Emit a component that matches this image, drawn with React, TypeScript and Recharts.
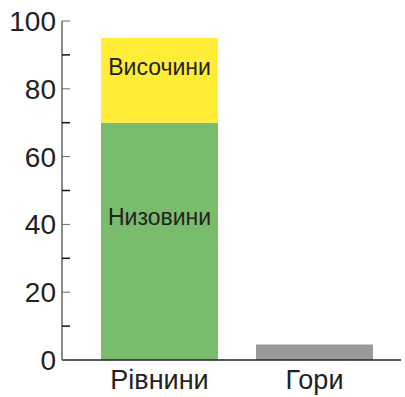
import { BarChart, Bar, XAxis, YAxis } from 'recharts';

const categories = ['Рівнини', 'Гори'];
const lowlands = [70, 0];
const highlands = [25, 0];
const mountains = [0, 4.6];
const yTicks = [0, 10, 20, 30, 40, 50, 60, 70, 80, 90, 100];
const segmentNames = { low: 'Низовини', high: 'Височини' };

const data = categories.map((name, i) => ({
  name,
  low: lowlands[i],
  high: highlands[i],
  mount: mountains[i],
}));

const FONT = '"Liberation Sans", Arial, sans-serif';

// y-axis ticks point inward and only every other one has a label
function YTick(props: any) {
  const { x, y, payload } = props;
  const axisX = x + 6;
  const major = payload.value % 20 === 0;
  return (
    <g>
      <line x1={axisX} x2={axisX + 8} y1={y} y2={y} stroke={major ? '#666' : '#111'} strokeWidth={major ? 1 : 1.5} />
      {major && (
        <text x={x} y={y} dy="0.36em" textAnchor="end" fontSize={28} fontFamily={FONT} fill="#222">
          {payload.value}
        </text>
      )}
    </g>
  );
}

function segmentLabel(text: string, dy: number) {
  return (props: any) => {
    const { x, y, width, height, value } = props;
    if (!value) return null;
    return (
      <text x={x + width / 2} y={y + height / 2 + dy} dy="0.36em" textAnchor="middle" fontSize={23} fontFamily={FONT} fill="#222">
        {text}
      </text>
    );
  };
}

export default function App() {
  return (
    <div style={{ position: 'absolute', left: 0, top: 0, background: '#fff' }}>
      <BarChart width={405} height={397} data={data} margin={{ top: 21, right: 4, left: 0, bottom: 0 }}>
        <XAxis
          dataKey="name"
          height={37}
          padding={{ left: 20, right: 9 }}
          tickLine={false}
          tickMargin={4}
          axisLine={{ stroke: '#222', strokeWidth: 1.5 }}
          tick={{ fontSize: 27, fontFamily: FONT, fill: '#222' }}
        />
        <YAxis
          width={62}
          domain={[0, 100]}
          ticks={yTicks}
          interval={0}
          tickSize={0}
          tickMargin={6}
          tickLine={false}
          axisLine={{ stroke: '#666', strokeWidth: 1.5 }}
          tick={<YTick />}
        />
        <Bar dataKey="low" stackId="a" fill="#79bc6b" barSize={117} isAnimationActive={false} label={segmentLabel(segmentNames.low, -25)} />
        <Bar dataKey="high" stackId="a" fill="#ffed38" barSize={117} isAnimationActive={false} label={segmentLabel(segmentNames.high, -14)} />
        <Bar dataKey="mount" stackId="a" fill="#9a999e" barSize={117} isAnimationActive={false} />
      </BarChart>
    </div>
  );
}
